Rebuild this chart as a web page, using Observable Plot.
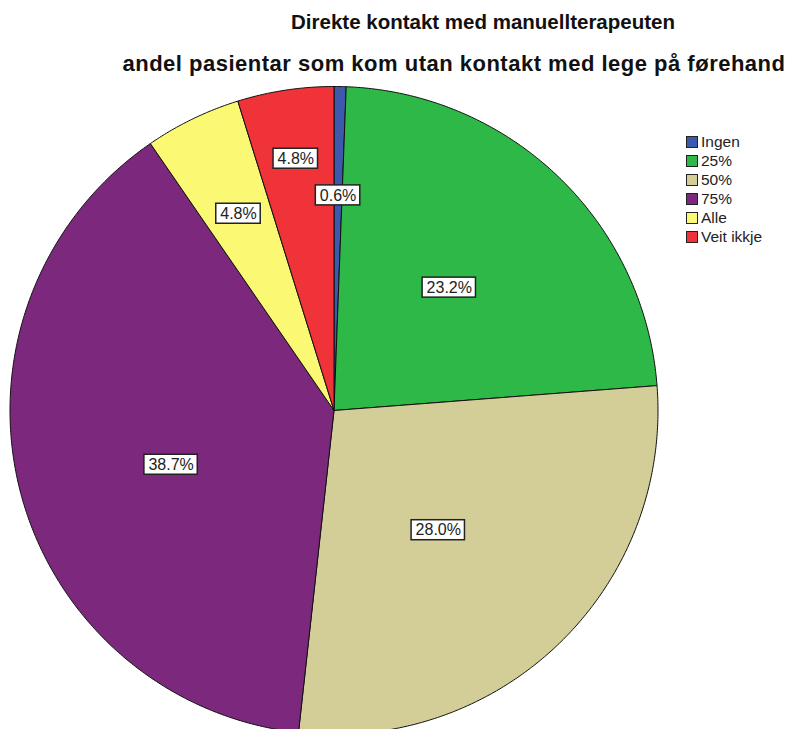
<!DOCTYPE html>
<html><head><meta charset="utf-8">
<script src="https://cdn.jsdelivr.net/npm/d3@7"></script>
<script src="https://cdn.jsdelivr.net/npm/@observablehq/plot@0.6"></script>
<style>
body{margin:0;background:#fff;font-family:Arial,"Liberation Sans",sans-serif;}
#chart{position:relative;width:799px;height:729px;overflow:hidden;background:#fff;}
#chart svg{position:absolute;left:0;top:0;}
.ttl{position:absolute;font-weight:bold;color:#111;white-space:nowrap;transform:translateX(-50%);line-height:1.15;}
.leg{position:absolute;font-size:15.5px;color:#222;white-space:nowrap;line-height:19px;}
.leg .sw{display:inline-block;width:10px;height:10px;border:1px solid #222;vertical-align:-1px;margin-right:3px;}
</style></head><body><div id="chart"></div>
<script>
// ---- data ----
const categories = ["Ingen", "25%", "50%", "75%", "Alle", "Veit ikkje"];
const percents = [0.6, 23.2, 28.0, 38.7, 4.8, 4.8];
const labels = ["0.6%", "23.2%", "28.0%", "38.7%", "4.8%", "4.8%"];
const colors = ["#3E58AC", "#2EB848", "#D3CE97", "#7C287D", "#FBF873", "#EF3338"];
const title = "Direkte kontakt med manuellterapeuten";
const subtitle = "andel pasientar som kom utan kontakt med lege på førehand";

// ---- layout ----
const W = 799, H = 729, CX = 333.5, CY = 410, R = 324;
const labelRadius = [0.664, 0.52, 0.49, 0.53, 0.675, 0.786];
const labelAngleShift = [0, -0.7, 3, -4.3, 0, 0]; // degrees
const labelFont = 16;

const total = d3.sum(percents);
const slicePts = [];
const labelData = [];
const ctx = document.createElement("canvas").getContext("2d");
ctx.font = `${labelFont}px Arial, "Liberation Sans", sans-serif`;
let cum = 0;
percents.forEach((p, i) => {
  const a0 = cum / total * 2 * Math.PI;
  cum += p;
  const a1 = cum / total * 2 * Math.PI;
  const n = Math.max(2, Math.ceil((a1 - a0) / (Math.PI / 360)));
  const pts = [{x: 0, y: 0}];
  for (let k = 0; k <= n; k++) {
    const a = a0 + (a1 - a0) * k / n;
    pts.push({x: Math.sin(a), y: Math.cos(a)});
  }
  pts.push({x: 0, y: 0});
  pts.forEach(q => slicePts.push({...q, cat: categories[i]}));
  const am = (a0 + a1) / 2 + labelAngleShift[i] * Math.PI / 180;
  const lx = Math.sin(am) * labelRadius[i], ly = Math.cos(am) * labelRadius[i];
  const tw = ctx.measureText(labels[i]).width;
  const hw = (tw / 2 + 4) / R, hh = 10 / R;
  labelData.push({x: lx, y: ly, label: labels[i], x1: lx - hw, x2: lx + hw, y1: ly - hh, y2: ly + hh});
});

const plot = Plot.plot({
  width: W, height: H,
  margin: 0,
  x: {domain: [-1, 1], range: [CX - R, CX + R], axis: null},
  y: {domain: [-1, 1], range: [CY + R, CY - R], axis: null},
  color: {domain: categories, range: colors},
  style: {background: "transparent", overflow: "hidden"},
  marks: [
    Plot.line(slicePts, {x: "x", y: "y", z: "cat", fill: "cat", stroke: "#111", strokeWidth: 1, curve: "linear", strokeLinejoin: "round"}),
    Plot.rect(labelData, {x1: "x1", x2: "x2", y1: "y1", y2: "y2", fill: "white", stroke: "#222", strokeWidth: 1.5}),
    Plot.text(labelData, {x: "x", y: "y", text: "label", fontSize: labelFont, fill: "#222", fontFamily: "Arial, 'Liberation Sans', sans-serif"})
  ]
});
const chart = document.getElementById("chart");
chart.appendChild(plot);

function addTitle(text, cx, top, size, spacing) {
  const d = document.createElement("div");
  d.className = "ttl"; d.textContent = text;
  d.style.left = cx + "px"; d.style.top = top + "px"; d.style.fontSize = size + "px";
  d.style.letterSpacing = spacing + "px";
  chart.appendChild(d);
}
addTitle(title, 483, 10, 20.5, 0);
addTitle(subtitle, 454, 51, 22, 0.5);

const leg = document.createElement("div");
leg.className = "leg";
leg.style.left = "686px"; leg.style.top = "132px";
categories.forEach((c, i) => {
  const row = document.createElement("div");
  const sw = document.createElement("span");
  sw.className = "sw"; sw.style.background = colors[i];
  row.appendChild(sw);
  row.appendChild(document.createTextNode(c));
  leg.appendChild(row);
});
chart.appendChild(leg);
</script></body></html>
